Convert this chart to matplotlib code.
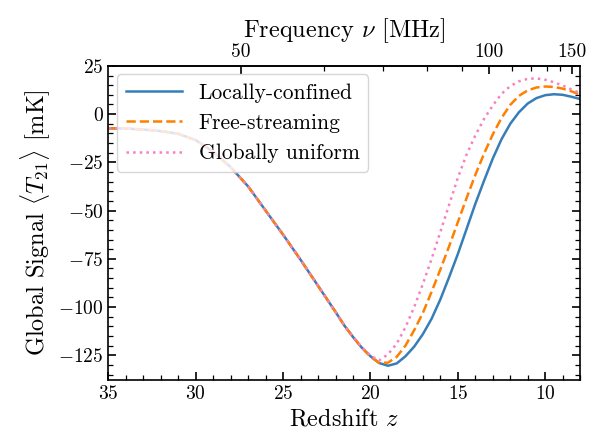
"""Global 21-cm signal vs redshift for three heating models."""

import matplotlib
matplotlib.use('Agg')
import matplotlib.pyplot as plt
import matplotlib.ticker as mticker
import numpy as np

plt.rcParams.update({
    'font.family': 'serif',
    'font.serif': ['cmr10', 'DejaVu Serif'],
    'mathtext.fontset': 'cm',
    'axes.formatter.use_mathtext': True,
    'axes.unicode_minus': True,
    'font.size': 14,
    'axes.labelsize': 17.5,
    'xtick.labelsize': 14,
    'ytick.labelsize': 14,
    'legend.fontsize': 15.5,
    'xtick.direction': 'in',
    'ytick.direction': 'in',
    'xtick.major.size': 6,
    'ytick.major.size': 6,
    'xtick.minor.size': 3.5,
    'ytick.minor.size': 3.5,
    'xtick.major.width': 1.2,
    'ytick.major.width': 1.2,
    'xtick.minor.width': 0.9,
    'ytick.minor.width': 0.9,
    'axes.linewidth': 1.2,
})

NU21 = 1420.405751  # MHz

# redshift grid shared by all three curves
z = [35, 34, 33, 32, 31, 30, 29, 28, 27, 26, 25, 24, 23, 22, 21.5, 21,
     20.5, 20, 19.5, 19, 18.5, 18, 17.5, 17, 16.5, 16, 15.5, 15, 14.5, 14,
     13.5, 13, 12.5, 12, 11.5, 11, 10.5, 10, 9.5, 9, 8.5, 8]

t21_local = [-7.3, -7.5, -8.0, -8.8, -10.2, -13.5, -19.5, -27.5, -37.5, -50,
             -62.5, -75.5, -89, -102.5, -109.5, -115.5, -121, -125.5, -129,
             -130.4, -129.2, -125.5, -120.5, -114, -106, -96, -84.5, -72.5,
             -59.5, -46.5, -34.5, -23, -13, -5, 1, 5.5, 8.3, 9.8, 10.3, 10.0,
             9.0, 7.8]

t21_free = [-7.3, -7.5, -8.0, -8.8, -10.2, -13.5, -19.5, -27.5, -37.5, -50,
            -62.5, -75.5, -89, -102.5, -109.5, -115.5, -121, -125.7, -128.9,
            -128.8, -125.8, -120, -112, -103, -92, -80.5, -68.5, -56, -43.5,
            -31.5, -20.5, -10.5, -2, 4.8, 9.5, 12.3, 13.8, 14.3, 14.1, 13.2,
            11.8, 10.0]

t21_global = [-7.3, -7.5, -8.0, -8.8, -10.2, -13.5, -19.5, -27.5, -37.5, -50,
              -62.5, -75.5, -89, -102.5, -109.5, -115.5, -120.8, -125.2,
              -127.6, -124.5, -119, -110.5, -100, -88, -75, -61, -47, -33,
              -21, -11, -2.5, 4.5, 10.5, 14.5, 17, 18.3, 18.5, 17.8, 16.5,
              14.8, 12.8, 10.8]

labels = ['Locally-confined', 'Free-streaming', 'Globally uniform']
colors = ['#377eb8', '#ff7f00', '#f781bf']
styles = ['-', '--', ':']

nu_major = [50, 100, 150]
nu_minor = [60, 70, 80, 90, 110, 120, 130, 140]


def z_to_nu(zz):
    return NU21 / (1 + np.asarray(zz, dtype=float))


def nu_to_z(nu):
    return NU21 / np.asarray(nu, dtype=float) - 1


fig = plt.figure(figsize=(5.89, 4.45), dpi=100)
ax = fig.add_axes([0.184, 0.146, 0.801, 0.706])

for t, lab, c, ls in zip([t21_local, t21_free, t21_global], labels, colors, styles):
    ax.plot(z, t, ls, color=c, lw=1.8, label=lab)

ax.set_xlim(35, 8)
ax.set_ylim(-137.8, 25)
ax.xaxis.set_major_locator(mticker.MultipleLocator(5))
ax.xaxis.set_minor_locator(mticker.MultipleLocator(1))
ax.yaxis.set_major_locator(mticker.MultipleLocator(25))
ax.yaxis.set_minor_locator(mticker.MultipleLocator(5))
ax.tick_params(which='both', top=False, right=True)
ax.set_xlabel(r'Redshift $z$')
ax.set_ylabel(r'Global Signal $\langle T_{21} \rangle$ [mK]')

sec = ax.secondary_xaxis('top', functions=(z_to_nu, nu_to_z))
sec.set_xticks(nu_major)
sec.set_xticks(nu_minor, minor=True)
sec.set_xticklabels([str(n) for n in nu_major])
sec.tick_params(which='both', direction='in')
sec.set_xlabel(r'Frequency $\nu$ [MHz]')

ax.legend(loc='upper left', framealpha=0.8, edgecolor='0.8',
          handlelength=2.6, borderaxespad=0.4)

fig.savefig('out.png', dpi=100)
